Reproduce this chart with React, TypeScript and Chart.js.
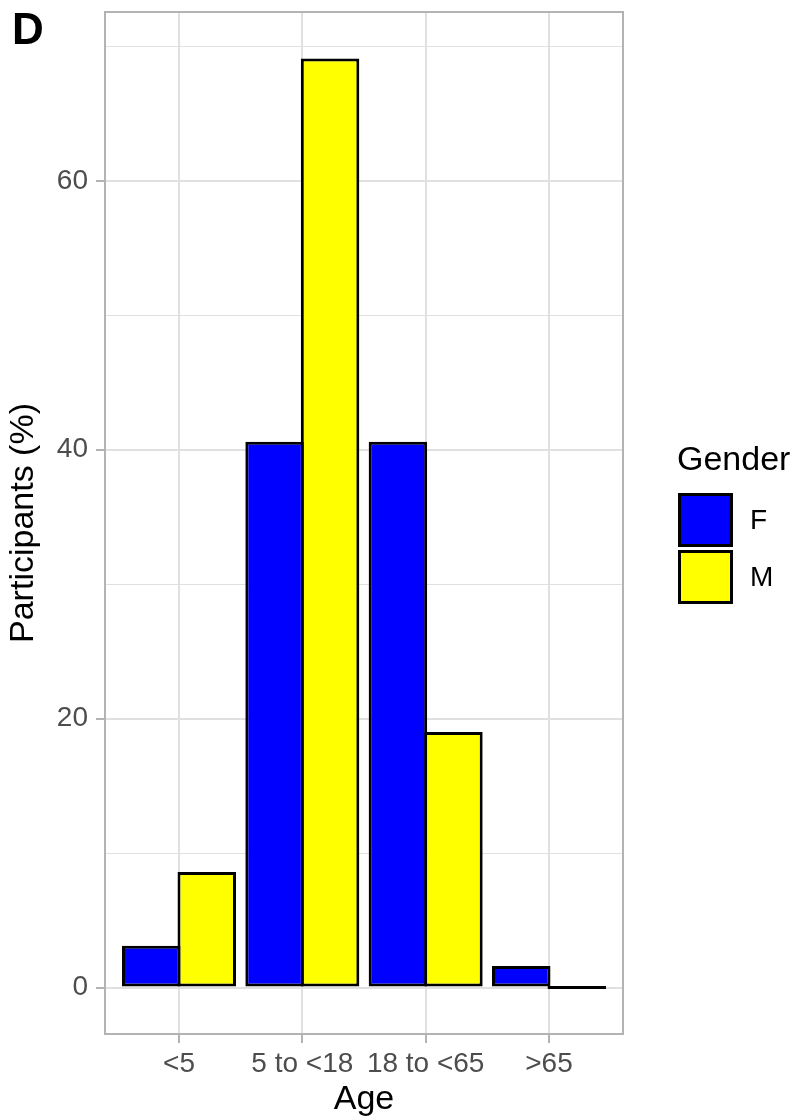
import React, { useEffect, useRef } from 'react';
import { Chart, registerables } from 'chart.js';

Chart.register(...registerables);

// ---- data ----
const categories = ['<5', '5 to <18', '18 to <65', '>65'];
const categoryPositions = [1, 2, 3, 4];
const femaleValues = [3.1, 40.6, 40.6, 1.6];
const maleValues = [8.6, 69.1, 19.0, 0];
const seriesLabels = ['F', 'M'];
const seriesColors = ['#0000ff', '#ffff00'];
const yMajorTicks = [0, 20, 40, 60];
const yMinorTicks = [10, 30, 50, 70];
const legendTitle = 'Gender';
const xTitle = 'Age';
const yTitle = 'Participants (%)';
const panelTag = 'D';

const FONT = '"Liberation Sans", Arial, Helvetica, sans-serif';
const TICK_SIZE = 28;
const TITLE_SIZE = 34;

const decorPlugin = {
  id: 'decor',
  afterDraw(chart: any) {
    const { ctx, chartArea: a } = chart;
    ctx.save();
    // panel border
    ctx.strokeStyle = '#b3b3b3';
    ctx.lineWidth = 2;
    ctx.strokeRect(a.left, a.top, a.right - a.left, a.bottom - a.top);
    // tag
    ctx.fillStyle = '#000';
    ctx.font = `bold 44px ${FONT}`;
    ctx.textAlign = 'left';
    ctx.textBaseline = 'alphabetic';
    ctx.fillText(panelTag, 12, 44);
    // legend
    const lx = a.right + 55;
    ctx.font = `${TITLE_SIZE}px ${FONT}`;
    ctx.fillText(legendTitle, lx - 1, 470);
    chart.data.datasets.forEach((ds: any, i: number) => {
      const y = 493 + i * 57;
      ctx.fillStyle = ds.backgroundColor;
      ctx.fillRect(lx, y, 55, 54);
      ctx.strokeStyle = '#000';
      ctx.lineWidth = 3;
      ctx.strokeRect(lx + 1.5, y + 1.5, 52, 51);
      ctx.fillStyle = '#000';
      ctx.font = `${TICK_SIZE}px ${FONT}`;
      ctx.textBaseline = 'middle';
      ctx.fillText(ds.label, lx + 72, y + 28);
      ctx.textBaseline = 'alphabetic';
    });
    ctx.restore();
  },
};

export default function App() {
  const canvasRef = useRef<HTMLCanvasElement | null>(null);

  useEffect(() => {
    document.body.style.margin = '0';
    const canvas = canvasRef.current;
    if (!canvas) return;
    const values = [femaleValues, maleValues];
    const chart = new Chart(canvas, {
      type: 'bar',
      data: {
        datasets: seriesLabels.map((label, s) => ({
          label,
          data: categoryPositions.map((x, i) => ({ x, y: values[s][i] })),
          backgroundColor: seriesColors[s],
          borderColor: '#000000',
          borderWidth: 3,
          borderSkipped: false,
          minBarLength: 3,
          barPercentage: 1.054,
          categoryPercentage: 0.9,
        })),
      },
      options: {
        animation: false,
        responsive: true,
        maintainAspectRatio: false,
        devicePixelRatio: 1,
        layout: { padding: { top: 12, right: 184, left: 0, bottom: 0 } },
        plugins: {
          legend: { display: false },
          tooltip: { enabled: false },
          title: { display: false },
        },
        scales: {
          x: {
            type: 'linear',
            min: 0.4,
            max: 4.6,
            offset: false,
            afterBuildTicks: (scale: any) => {
              scale.ticks = categoryPositions.map((v) => ({ value: v }));
            },
            afterFit: (scale: any) => {
              scale.height = 86;
              scale.paddingLeft = 0;
              scale.paddingRight = 0;
            },
            ticks: {
              autoSkip: false,
              maxRotation: 0,
              minRotation: 0,
              padding: 7,
              color: '#4d4d4d',
              font: { family: FONT, size: TICK_SIZE, lineHeight: 1 },
              callback: (v: any) => categories[categoryPositions.indexOf(Number(v))] ?? '',
            },
            grid: {
              offset: false,
              color: '#e0e0e0',
              lineWidth: 2,
              tickLength: 9,
              tickColor: '#b3b3b3',
              tickWidth: 2,
            },
            border: { display: false },
            title: {
              display: true,
              text: xTitle,
              color: '#000',
              font: { family: FONT, size: TITLE_SIZE, lineHeight: 1 },
              padding: { top: 0, bottom: 3 },
            },
          },
          y: {
            type: 'linear',
            min: -3.455,
            max: 72.555,
            afterBuildTicks: (scale: any) => {
              scale.ticks = [...yMajorTicks, ...yMinorTicks]
                .sort((p, q) => p - q)
                .map((v) => ({ value: v }));
            },
            afterFit: (scale: any) => {
              scale.width = 105;
              scale.paddingTop = 0;
              scale.paddingBottom = 0;
            },
            ticks: {
              autoSkip: false,
              padding: 8,
              color: '#4d4d4d',
              font: { family: FONT, size: TICK_SIZE, lineHeight: 1 },
              callback: (v: any) => (yMajorTicks.includes(Number(v)) ? String(v) : ''),
            },
            grid: {
              color: '#e0e0e0',
              lineWidth: (c: any) => (yMajorTicks.includes(c.tick?.value) ? 2 : 1),
              tickLength: 9,
              tickColor: (c: any) => (yMajorTicks.includes(c.tick?.value) ? '#b3b3b3' : 'rgba(0,0,0,0)'),
              tickWidth: 2,
            },
            border: { display: false },
            title: {
              display: true,
              text: yTitle,
              color: '#000',
              font: { family: FONT, size: TITLE_SIZE, lineHeight: 1 },
              padding: { top: 7, bottom: 0 },
            },
          },
        },
      },
      plugins: [decorPlugin],
    } as any);
    return () => chart.destroy();
  }, []);

  return (
    <div style={{ position: 'relative', width: '807px', height: '1120px' }}>
      <canvas ref={canvasRef} />
    </div>
  );
}
